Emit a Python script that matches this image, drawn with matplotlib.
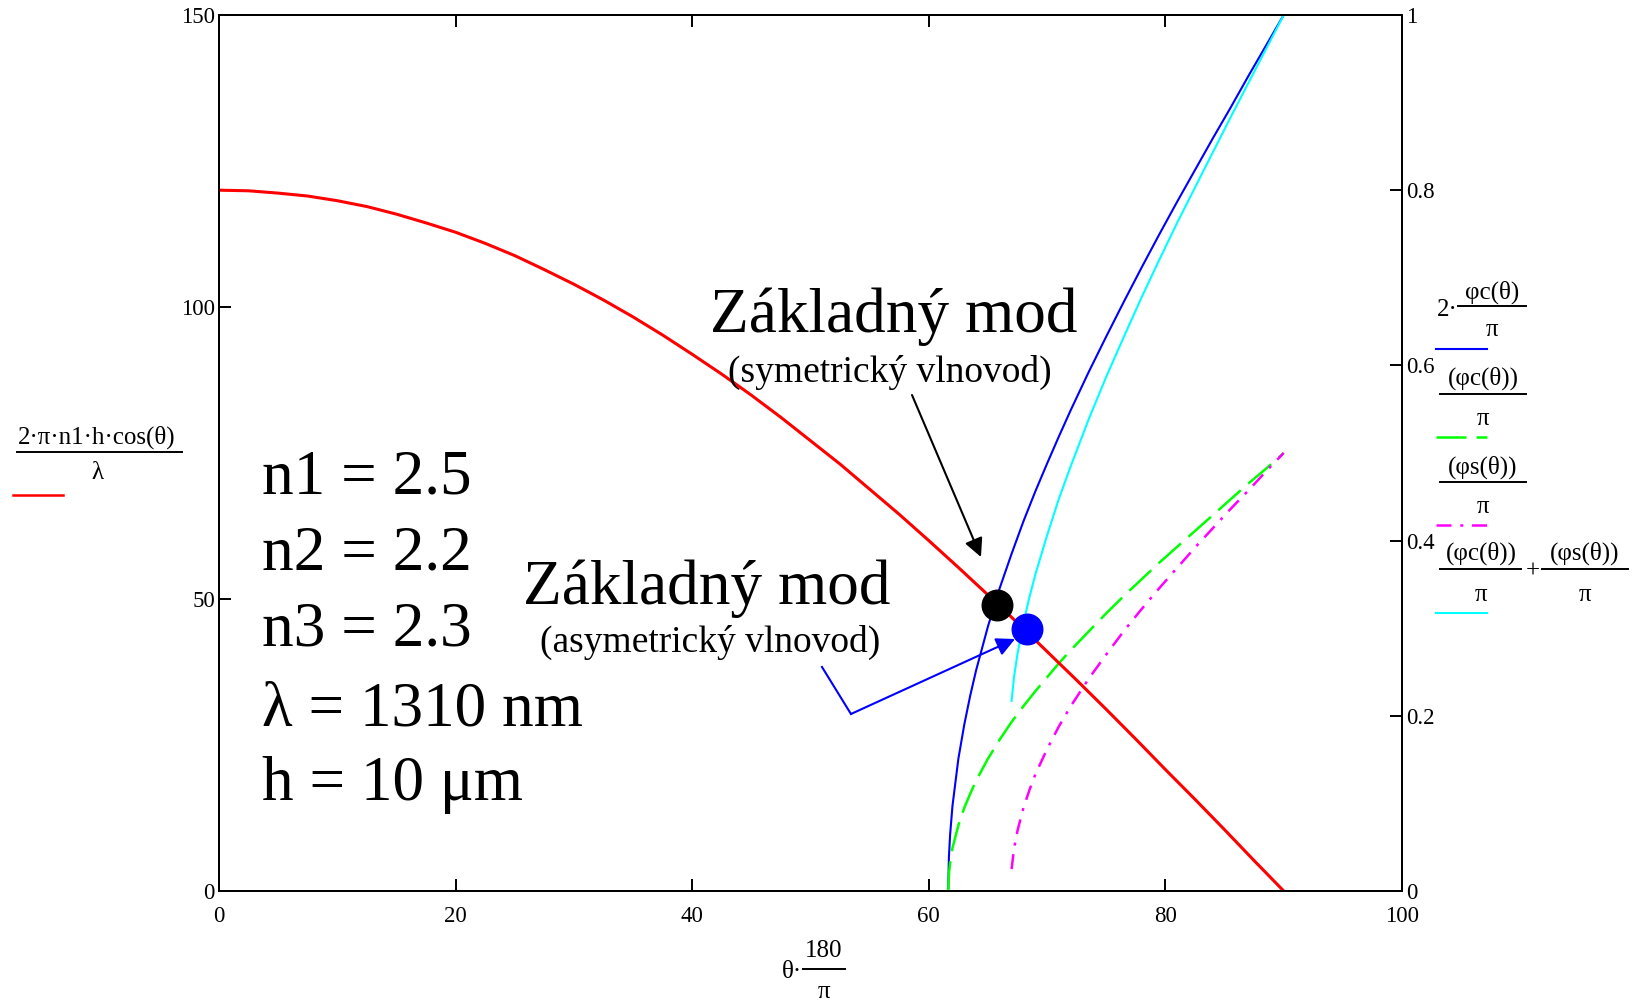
import matplotlib
matplotlib.use('Agg')
import matplotlib.pyplot as plt
from matplotlib.lines import Line2D

plt.rcParams['font.family'] = ['Liberation Serif', 'DejaVu Serif']

# figure size in pixels
W, H = 1632, 1000

# red curve: 2*pi*n1*h*cos(theta)/lambda  (left axis)
theta_red = [0, 2.5, 5, 7.5, 10, 12.5, 15, 17.5, 20, 22.5, 25, 27.5, 30, 32.5, 35, 37.5,
             40, 42.5, 45, 47.5, 50, 52.5, 55, 57.5, 60, 62.5, 65, 67.5, 70, 72.5, 75,
             77.5, 80, 82.5, 85, 87.5, 90]
red_vals = [120.0, 119.9, 119.5, 119.0, 118.2, 117.2, 115.9, 114.4, 112.8, 110.9, 108.8,
            106.4, 103.9, 101.2, 98.3, 95.2, 91.9, 88.5, 84.9, 81.1, 77.1, 73.1, 68.8,
            64.5, 60.0, 55.4, 50.7, 45.9, 41.0, 36.1, 31.1, 26.0, 20.8, 15.7, 10.5, 5.2, 0.0]

# phase curves (right axis)
theta_c = [61.64, 61.7, 61.8, 62, 62.5, 63, 63.5, 64, 65, 66, 67, 68, 69, 70, 71, 72,
           73.5, 75, 76.5, 78, 79.5, 81, 82.5, 84, 85.5, 87, 88.5, 90]
blue_vals = [0, .039, .064, .097, .151, .190, .223, .252, .302, .346, .385, .422, .456,
             .488, .519, .549, .592, .633, .673, .712, .750, .787, .823, .859, .894, .930,
             .965, 1.0]
green_vals = [0, .019, .032, .049, .075, .095, .111, .126, .151, .173, .193, .211, .228,
              .244, .260, .275, .296, .317, .337, .356, .375, .393, .411, .429, .447, .465,
              .482, .5]

theta_s = [67, 67.2, 67.5, 68, 68.5, 69, 70, 71, 72, 73.5, 75, 76.5, 78, 79.5, 81, 82.5,
           84, 85.5, 87, 88.5, 90]
magenta_vals = [.025, .048, .069, .095, .115, .133, .162, .188, .211, .242, .270, .297,
                .322, .346, .369, .392, .414, .436, .457, .479, .5]
cyan_vals = [.217, .244, .271, .306, .335, .361, .406, .448, .485, .538, .587, .633, .678,
             .721, .763, .803, .843, .883, .922, .961, 1.0]

# fundamental mode points (symmetric, asymmetric)
mode_theta = [65.8, 68.3]
mode_vals = [49.0, 44.9]
mode_colors = ['black', '#0000ff']

x_ticks = [0, 20, 40, 60, 80, 100]
left_ticks = [0, 50, 100, 150]
right_ticks = [0, 0.2, 0.4, 0.6, 0.8, 1.0]
right_labels = ['0', '0.2', '0.4', '0.6', '0.8', '1']

params = ['n1 = 2.5', 'n2 = 2.2', 'n3 = 2.3', 'λ = 1310 nm', 'h = 10 μm']

LEG = 18  # legend / axis-title font size


def fx(x):
    return x / W


def fy(y):
    return 1 - y / H


def fig_line(x0, x1, y, color='black', lw=1.4, **kw):
    fig.add_artist(Line2D([fx(x0), fx(x1)], [fy(y), fy(y)], color=color, lw=lw,
                          transform=fig.transFigure, **kw))


def fig_text(x, y, s, size=LEG, ha='center', va='center'):
    fig.text(fx(x), fy(y), s, fontsize=size, ha=ha, va=va)


fig = plt.figure(figsize=(W / 100, H / 100), dpi=100)
ax = fig.add_axes([219 / W, 1 - 891 / H, 1183 / W, 876 / H])
ax2 = ax.twinx()
ax.set_zorder(ax2.get_zorder() + 1)
ax.patch.set_visible(False)

# curves
ax.plot(theta_red, red_vals, color='#ff0000', lw=2.2)
ax2.plot(theta_c, blue_vals, color='#0000ff', lw=1.5)
ax2.plot(theta_s, cyan_vals, color='#00ffff', lw=1.5)
ax2.plot(theta_c, green_vals, color='#00ff00', lw=1.8, dashes=(12, 4))
ax2.plot(theta_s, magenta_vals, color='#ff00ff', lw=1.8, dashes=(6, 3.5, 1.2, 3.5))

for t, v, c in zip(mode_theta, mode_vals, mode_colors):
    ax.plot(t, v, 'o', color=c, markersize=22, zorder=5)

# axes limits / ticks
ax.set_xlim(0, 100)
ax.set_ylim(0, 150)
ax2.set_ylim(0, 1)
ax.set_xticks(x_ticks)
ax.set_yticks(left_ticks)
ax2.set_yticks(right_ticks)
ax2.set_yticklabels(right_labels)
ax.tick_params(axis='both', direction='in', length=8.6, width=1.4, labelsize=16.5, top=True)
ax.tick_params(axis='x', pad=10.5)
ax.tick_params(axis='y', pad=3)
ax2.tick_params(axis='y', direction='in', length=8.6, width=1.4, labelsize=16.5, pad=3)
for a in (ax, ax2):
    for sp in a.spines.values():
        sp.set_linewidth(1.4)

# annotations
ax.text(57.06, 95.7, 'Základný mod', fontsize=45.5, ha='center', va='baseline')
ax.text(56.7, 87.2, '(symetrický vlnovod)', fontsize=27, ha='center', va='baseline')
ax.text(41.25, 49.1, 'Základný mod', fontsize=45.5, ha='center', va='baseline')
ax.text(41.5, 40.9, '(asymetrický vlnovod)', fontsize=27, ha='center', va='baseline')

ax.annotate('', xy=(64.41, 57.19), xytext=(58.58, 84.93),
            arrowprops=dict(arrowstyle='-|>', color='black', lw=1.5,
                            mutation_scale=28, shrinkA=0, shrinkB=0))
ax.plot([50.97, 53.42], [38.36, 30.31], color='#0000ff', lw=1.5)
ax.annotate('', xy=(67.29, 43.15), xytext=(53.42, 30.31),
            arrowprops=dict(arrowstyle='-|>', color='#0000ff', lw=1.5,
                            mutation_scale=28, shrinkA=0, shrinkB=0))

# parameter block
base = [68.15, 54.97, 42.12, 28.42, 15.58]
for s, yb in zip(params, base):
    ax.text(3.63, yb, s, fontsize=45.5, ha='left', va='baseline')

# left legend
fig_text(97, 437, '2·π·n1·h·cos(θ)')
fig_line(17, 182, 452)
fig_text(97, 473, 'λ')
fig_line(13, 63, 495, color='#ff0000', lw=1.8)

# right legend
fig_text(1458, 310, '2·', ha='right')
fig_text(1492, 292, 'φc(θ)')
fig_line(1458, 1526, 306)
fig_text(1492, 330, 'π')
fig_line(1436, 1487, 349, color='#0000ff', lw=1.5)

fig_text(1483, 378, '(φc(θ))')
fig_line(1440, 1526, 394)
fig_text(1483, 419, 'π')
fig_line(1436, 1487, 437, color='#00ff00', lw=1.8, dashes=(12, 4))

fig_text(1483, 467, '(φs(θ))')
fig_line(1440, 1526, 482)
fig_text(1483, 507, 'π')
fig_line(1436, 1487, 525, color='#ff00ff', lw=1.8, dashes=(6, 3.5, 1.2, 3.5))

fig_text(1481, 553, '(φc(θ))')
fig_line(1440, 1521, 569)
fig_text(1533, 572, '+')
fig_text(1585, 553, '(φs(θ))')
fig_line(1542, 1628, 569)
fig_text(1481, 595, 'π')
fig_text(1585, 595, 'π')
fig_line(1436, 1487, 613, color='#00ffff', lw=1.5)

# x axis label
fig_text(802, 972, 'θ·', ha='right')
fig_text(824, 951, '180')
fig_line(803, 845, 969)
fig_text(824, 992, 'π')

fig.savefig('out.png', dpi=100)
